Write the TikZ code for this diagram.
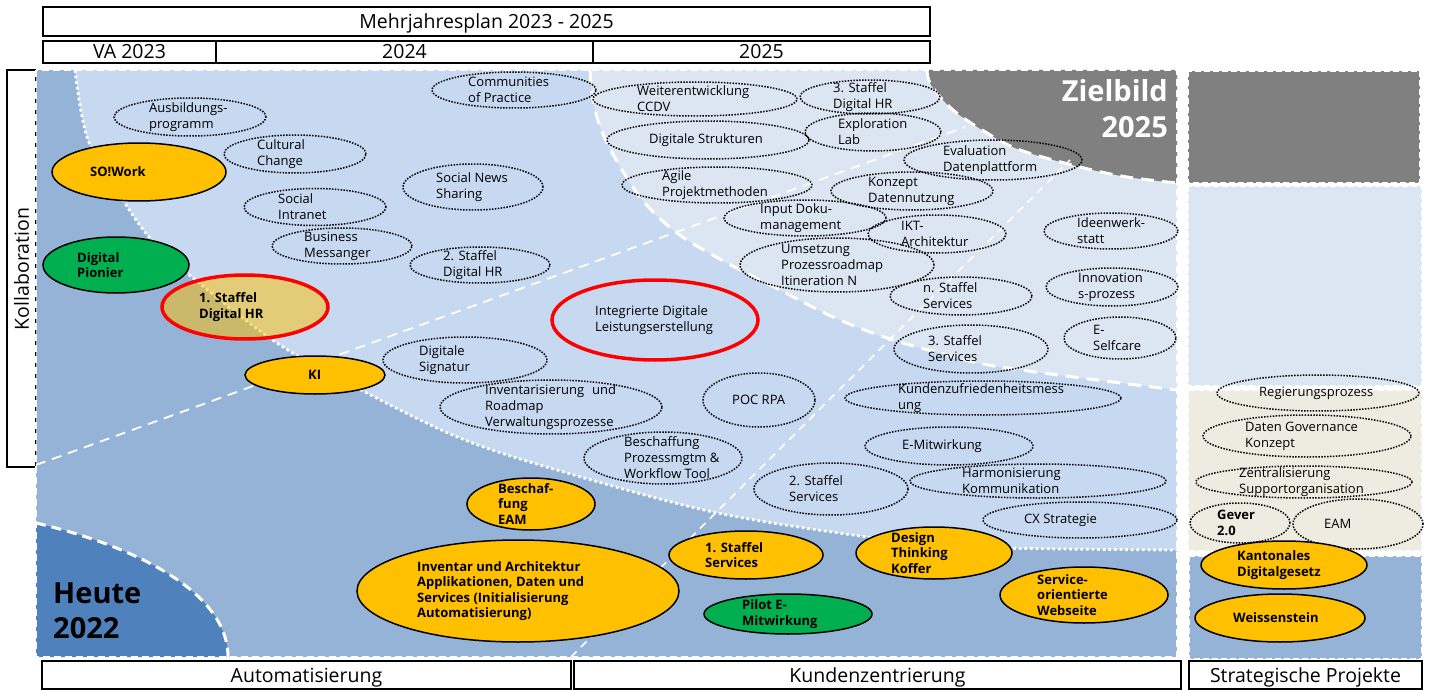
\documentclass[tikz,border=0pt]{standalone}
\usepackage{fontspec}
\setmainfont{Open Sans}
\usetikzlibrary{shapes.geometric}
\definecolor{cdark}{HTML}{95B3D7}
\definecolor{clight}{HTML}{C6D9F1}
\definecolor{clighter}{HTML}{DCE6F2}
\definecolor{cheute}{HTML}{4F81BD}
\definecolor{cgray}{HTML}{808080}
\definecolor{cbeige}{HTML}{EEECE1}
\definecolor{cyel}{HTML}{FFC000}
\definecolor{cgrn}{HTML}{00B050}
\definecolor{cred}{HTML}{FF0000}
% #1 ellipse style, #2 text style, #3 name, #4 cx, #5 cy, #6 rx, #7 ry, #8 text x, #9 text
\newcommand\ovl[9]{%
  \node[#1,minimum width={2*#6pt},minimum height={2*#7pt}] (#3) at (#4,#5) {};
  \node[#2,anchor=west] (#3t) at (#8,#5) {#9};}
\begin{document}
\begin{tikzpicture}[x=1pt,y=-1pt,
  tx/.style={font=\fontsize{13}{16}\selectfont,align=left,inner sep=0pt,text=black},
  bt/.style={font=\fontsize{13}{15.5}\selectfont\bfseries,align=left,inner sep=0pt,text=black},
  dotell/.style={ellipse,draw=black,line width=1.5pt,dash pattern=on 1.5pt off 1.4pt,inner sep=0pt},
  yell/.style={ellipse,draw=black,line width=1.5pt,fill=cyel,inner sep=0pt},
  gell/.style={ellipse,draw=black,line width=1.5pt,fill=cgrn,inner sep=0pt},
  redell/.style={ellipse,draw=cred,line width=3.5pt,inner sep=0pt},
  redyell/.style={ellipse,draw=cred,line width=3.5pt,fill=cyel,fill opacity=0.5,inner sep=0pt},
  hbox/.style={draw=black,line width=1.5pt,fill=white},
  htx/.style={font=\fontsize{19.5}{22}\selectfont,inner sep=0pt,text=black},
  wborder/.style={draw=white,line width=2pt,dash pattern=on 7pt off 4pt},
  wdots/.style={draw=white,line width=2.8pt,dash pattern=on 2.8pt off 2.8pt},
  wthick/.style={draw=white,line width=3pt,dash pattern=on 13pt off 8pt},
  wline/.style={draw=white,line width=1.8pt,dash pattern=on 10pt off 7pt},
  bigt/.style={font=\fontsize{29}{35}\selectfont\bfseries,inner sep=0pt}]
\fill[white] (0,0) rectangle (1433,690);
\useasboundingbox (0,0) rectangle (1433,690);

% header
\draw[hbox] (43,7) rectangle (930,36);
\node[htx,anchor=base] (mjp) at (486.5,29) {Mehrjahresplan 2023 - 2025};
\draw[hbox] (43,41) rectangle (216,63);
\draw[hbox] (216,41) rectangle (593,63);
\draw[hbox] (593,41) rectangle (930,63);
\node[htx,anchor=base] (va) at (129.5,59) {VA 2023};
\node[htx,anchor=base] (y24) at (404.5,59) {2024};
\node[htx,anchor=base] (y25) at (761.5,59) {2025};

% left axis
\draw[hbox] (7,70) rectangle (36,467);
\node[htx,rotate=90] (kol) at (21.5,269) {Kollaboration};

% bottom
\draw[hbox] (42,661) rectangle (571,689);
\draw[hbox] (574,661) rectangle (1181,689);
\draw[hbox] (1189,661) rectangle (1422,689);
\node[htx,anchor=base] (aut) at (306.5,682) {Automatisierung};
\node[htx,anchor=base] (kun) at (877.5,682) {Kundenzentrierung};
\node[htx,anchor=base] (strat) at (1305.5,682) {Strategische Projekte};

% main area
\fill[cdark] (36,70) rectangle (1177,657);
\fill[clight] plot[smooth,tension=0.55] coordinates {(75,70) (88,140) (123,200) (150,238) (187,273) (277,343) (367,393) (460,438) (557,470) (713,512) (867,537) (957,547) (1177,550)} -- (1177,70) -- cycle;
\fill[clighter] plot[smooth,tension=0.55] coordinates {(590,70) (594,105) (607,143) (640,197) (677,233) (727,263) (780,290) (833,317) (887,338) (940,353) (1000,367) (1177,390)} -- (1177,70) -- cycle;
\fill[cgray] plot[smooth,tension=0.55] coordinates {(927,70) (931,85) (953,110) (987,133) (1020,150) (1080,167) (1127,177) (1177,183)} -- (1177,70) -- cycle;
\fill[cheute] (36,523) .. controls (130,545) and (228,590) .. (228,657) -- (36,657) -- cycle;

\coordinate (l1a) at (36,465);
\coordinate (l1b) at (965,127);
\coordinate (l2a) at (571,657);
\coordinate (l2b) at (1070,160);
\draw[wline] (l1a) -- (l1b);
\draw[wline,line width=1.6pt,dash pattern=on 8pt off 6pt] (l2a) -- (l2b);

\draw[wdots] plot[smooth,tension=0.55] coordinates {(75,70) (88,140) (123,200) (150,238) (187,273) (277,343) (367,393) (460,438) (557,470) (713,512) (867,537) (957,547) (1177,550)};
\draw[wthick] plot[smooth,tension=0.55] coordinates {(590,70) (594,105) (607,143) (640,197) (677,233) (727,263) (780,290) (833,317) (887,338) (940,353) (1000,367) (1177,390)};
\draw[wthick] plot[smooth,tension=0.55] coordinates {(927,70) (931,85) (953,110) (987,133) (1020,150) (1080,167) (1127,177) (1177,183)};
\draw[wthick,dash pattern=on 10pt off 6pt] (36,523) .. controls (130,545) and (228,590) .. (228,657);
\draw[wborder] (36,70) rectangle (1177,657);

\node[bigt,anchor=base west,text=black] (heute) at (53,603) {Heute};
\node[bigt,anchor=base west,text=black] (h22) at (53,638) {2022};
\node[bigt,anchor=base east,text=white] (ziel) at (1168,102) {Zielbild};
\node[bigt,anchor=base east,text=white] (z25) at (1168,138) {2025};

% right column
\fill[cgray] (1188,71) rectangle (1420,183);
\draw[wborder,line width=2.5pt,dash pattern=on 6pt off 3pt] (1188,71) rectangle (1420,183);
\fill[clighter] (1188,186) rectangle (1422,386);
\draw[wborder,line width=2pt,dash pattern=on 6pt off 3pt] (1188,186) rectangle (1422,386);
\fill[cbeige] (1188,390) rectangle (1422,551);
\draw[wborder,line width=2pt,dash pattern=on 6pt off 3pt] (1188,390) rectangle (1422,551);
\fill[cdark] (1189,556) rectangle (1422,659);
\draw[wborder,line width=2pt,dash pattern=on 6pt off 3pt] (1189,556) rectangle (1422,659);

% dotted ellipses
\ovl{dotell}{tx}{ausb}{190}{117}{76}{19}{149}{Ausbildungs-\\programm}
\ovl{dotell}{tx}{cult}{295}{154}{71}{19}{257}{Cultural\\Change}
\ovl{dotell}{tx}{socint}{315}{207}{71}{18.5}{278}{Social\\Intranet}
\ovl{dotell}{tx}{busm}{342}{246}{70}{18}{304}{Business\\Messanger}
\ovl{dotell}{tx}{comm}{514}{90}{82}{18}{468}{Communities\\of Practice}
\ovl{dotell}{tx}{socnews}{473}{187}{70}{23}{436}{Social News\\Sharing}
\ovl{dotell}{tx}{sdhr}{480}{265}{70}{18}{443}{2. Staffel\\Digital HR}
\ovl{dotell}{tx}{dsig}{465}{360}{82}{23}{419}{Digitale\\Signatur}
\ovl{dotell}{tx}{inv}{551}{407}{111}{27}{485}{Inventarisierung\hspace{8pt}und\\Roadmap\\Verwaltungsprozesse}
\ovl{redell}{tx}{ilg}{655}{320}{103}{40}{595}{Integrierte Digitale\\Leistungserstellung}
\ovl{dotell}{tx}{poc}{759}{400}{56}{27}{732}{POC RPA}
\ovl{dotell}{tx}{besch}{663}{458}{79}{26}{624}{Beschaffung\\Prozessmgtm \&\\Workflow Tool}
\ovl{dotell}{tx}{kzm}{983}{398}{138}{17}{898}{Kundenzufriedenheitsmess\\ung}
\ovl{dotell}{tx}{emit}{949}{446}{84}{19}{902}{E-Mitwirkung}
\ovl{dotell}{tx}{zss}{831}{489}{77}{26}{789}{2. Staffel\\Services}
\ovl{dotell}{tx}{harm}{1038}{481}{128}{17}{962}{Harmonisierung\\Kommunikation}
\ovl{dotell}{tx}{cx}{1080}{520}{97}{18}{1024}{CX Strategie}
\ovl{dotell}{tx}{wccdv}{695}{99}{102}{17}{637}{Weiterentwicklung\\CCDV}
\ovl{dotell}{tx}{ddhr}{870}{97}{70}{17}{833}{3. Staffel\\Digital HR}
\ovl{dotell}{tx}{dstr}{708}{140}{101}{19}{649}{Digitale Strukturen}
\ovl{dotell}{tx}{expl}{873}{132}{68}{19}{838}{Exploration\\Lab}
\ovl{dotell}{tx}{eval}{993}{160}{89}{20}{943}{Evaluation\\Datenplattform}
\ovl{dotell}{tx}{agile}{717}{185}{95}{18}{662}{Agile\\Projektmethoden}
\ovl{dotell}{tx}{konz}{912}{191}{81}{19}{868}{Konzept\\Datennutzung}
\ovl{dotell}{tx}{idoku}{805}{218}{81}{18}{760}{Input Doku-\\management}
\ovl{dotell}{tx}{ikt}{937}{234}{69}{19}{901}{IKT-\\Architektur}
\ovl{dotell}{tx}{ums}{837}{265}{97}{27}{781}{Umsetzung\\Prozessroadmap\\Itineration N}
\ovl{dotell}{tx}{nss}{961}{296}{71}{19}{923}{n. Staffel\\Services}
\ovl{dotell}{tx}{dss}{971}{349}{77}{24}{928}{3. Staffel\\Services}
\ovl{dotell}{tx}{ideen}{1111}{231}{67}{18}{1077}{Ideenwerk-\\statt}
\ovl{dotell}{tx}{innov}{1112}{287}{66}{19}{1078}{Innovation\\s-prozess}
\ovl{dotell}{tx}{esc}{1120}{338}{56}{21}{1093}{E-\\Selfcare}
\ovl{dotell}{tx}{regp}{1318}{393}{101}{18}{1259}{Regierungsprozess}
\ovl{dotell}{tx}{dgk}{1307}{436}{104}{21}{1245}{Daten Governance\\Konzept}
\ovl{dotell}{tx}{zsup}{1304}{482}{108}{16}{1239}{Zentralisierung\\Supportorganisation}
\ovl{dotell}{bt}{gever}{1240}{523}{50}{20}{1217}{Gever\\2.0}
\ovl{dotell}{tx}{eam}{1358}{524}{65}{25}{1324}{EAM}

% solid ellipses
\ovl{yell}{bt}{sowork}{139}{172}{87}{29}{90}{SO!Work}
\ovl{gell}{bt}{dpion}{116}{265}{73}{28}{77}{Digital\\Pionier}
\ovl{redyell}{bt}{fsdhr}{245}{307}{83}{32}{199}{1. Staffel\\Digital HR}
\ovl{yell}{bt}{ki}{315}{375}{70}{19}{308}{KI}
\ovl{yell}{bt}{bfeam}{531}{504}{64}{26}{498}{Beschaf-\\fung\\EAM}
\ovl{yell}{bt}{invarch}{518}{591}{161}{51}{417}{Inventar und Architektur\\Applikationen, Daten und\\Services (Initialisierung\\Automatisierung)}
\ovl{yell}{bt}{fss}{746}{555}{77}{24}{705}{1. Staffel\\Services}
\ovl{gell}{bt}{pilot}{788}{614}{84}{20}{742}{Pilot E-\\Mitwirkung}
\ovl{yell}{bt}{dtk}{934}{553}{78}{26}{891}{Design\\Thinking\\Koffer}
\ovl{yell}{bt}{sow}{1084}{595}{84}{28}{1037}{Service-\\orientierte\\Webseite}
\ovl{yell}{bt}{kdg}{1284}{565}{83}{24}{1237}{Kantonales\\Digitalgesetz}
\ovl{yell}{bt}{weiss}{1280}{618}{85}{24}{1233}{Weissenstein}
\end{tikzpicture}
\end{document}
